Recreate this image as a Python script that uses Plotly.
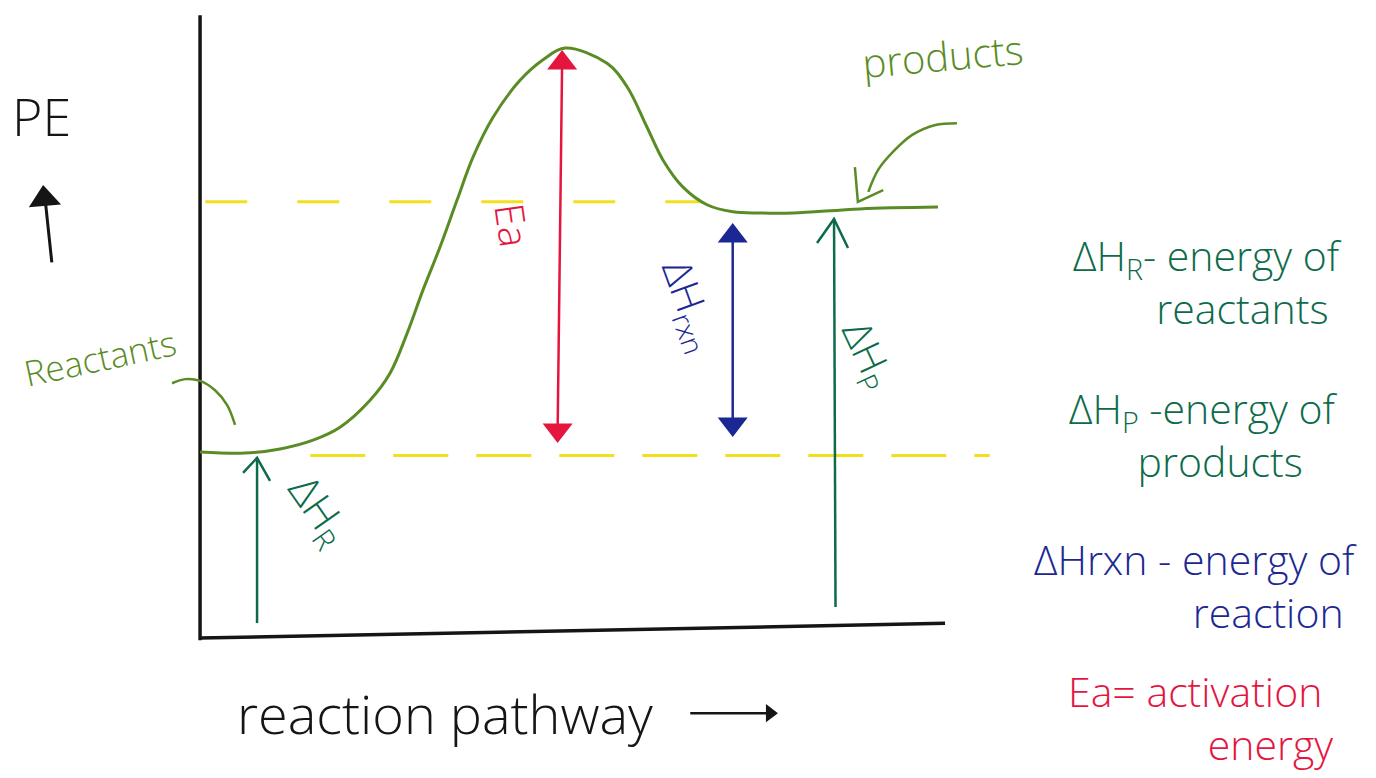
import plotly.graph_objects as go

# ---------------- data ----------------
# potential-energy curve along the reaction pathway (pathway units 0-100, PE units)
pathway = [0, 6.04, 10.74, 15.17, 18.79, 22.82, 25.50, 27.79, 29.93, 32.21, 34.50, 36.64,
           39.33, 42.95, 46.04, 49.0, 54.63, 57.32, 60.0, 62.15, 64.83, 68.05, 71.54,
           75.17, 79.6, 88.59, 99.06]
pe = [31.2, 31.0, 31.7, 33.2, 35.4, 40.0, 44.6, 51.4, 58.8, 66.1, 74.1, 81.4,
      88.2, 94.5, 98.0, 100.0, 97.4, 93.4, 86.5, 80.9, 76.3, 73.3, 72.1,
      71.9, 71.9, 72.6, 72.9]

reactant_pe = 31.2
product_pe = 72.4
peak_pe = 100.0
reactant_level_pe = 30.6
product_level_pe = 73.8

reactant_level_x = [14.8, 106.0]
product_level_x = [0.7, 67.1]

# pathway positions of the measured energy arrows
ea_x = 48.3
rxn_x = 71.5
hp_x = 85.1
hr_x = 7.65

# axis frame of the sketch
yaxis_x = [0, 0]
yaxis_pe = [105.6, -0.9]
xaxis_x = [0, 100]
xaxis_pe = [-0.5, 2.0]

# pointer curves
reactants_ptr_x = [-3.76, -2.01, 0.0, 2.01, 3.62, 4.70]
reactants_ptr_pe = [42.9, 43.6, 43.3, 41.7, 39.2, 35.8]
products_ptr_x = [101.6, 98.7, 95.6, 93.0, 91.0, 89.7]
products_ptr_pe = [87.2, 86.9, 85.2, 82.3, 79.2, 75.5]
products_head_x = [87.9, 88.3, 91.7]
products_head_pe = [79.7, 73.8, 75.8]

# ---------------- styles ----------------
CURVE_GREEN = "#5a8c25"
DARK_GREEN = "#0d6b4a"
BLUE = "#1b2894"
RED = "#e4163f"
YELLOW = "#f3e01c"
BLACK = "#151515"
FONT = "Open Sans"
PX_X = 7.45   # pixels per pathway unit
PX_Y = 5.87   # pixels per PE unit

fig = go.Figure()


def line(x, y, color, width, dash=None, shape="linear"):
    fig.add_trace(go.Scatter(x=x, y=y, mode="lines", line_shape=shape,
                             line=dict(color=color, width=width, dash=dash),
                             hoverinfo="skip"))


def head(x, y, symbol, color, size, angle=0):
    fig.add_trace(go.Scatter(x=[x], y=[y], mode="markers", hoverinfo="skip",
                             marker=dict(symbol=symbol, size=size, color=color, angle=angle,
                                         line=dict(width=0))))


def chevron(x, tip, color, dx_l, dx_r, dy_l, dy_r, width=2.5):
    line([x - dx_l / PX_X, x, x + dx_r / PX_X], [tip - dy_l / PX_Y, tip, tip - dy_r / PX_Y],
         color, width)


# yellow dashed energy levels
line(product_level_x, [product_level_pe] * 2, YELLOW, 3, dash="42px,50px")
line(reactant_level_x, [reactant_level_pe] * 2, YELLOW, 3, dash="55px,28px")

# axes
line(yaxis_x, yaxis_pe, BLACK, 3.5)
line(xaxis_x, xaxis_pe, BLACK, 3.5)

# energy curve
line(pathway, pe, CURVE_GREEN, 3, shape="spline")

# pointers
line(reactants_ptr_x, reactants_ptr_pe, CURVE_GREEN, 2.5, shape="spline")
line(products_ptr_x, products_ptr_pe, CURVE_GREEN, 2.5, shape="spline")
line(products_head_x, products_head_pe, CURVE_GREEN, 2.5)

# Ea double arrow (reactants -> peak)
ea_top = peak_pe - 15 / PX_Y
ea_bot = reactant_pe + 22 / PX_Y
line([ea_x + 0.3, ea_x - 0.3], [ea_top, ea_bot], RED, 2.5)
head(ea_x + 0.3, ea_top, "triangle-up", RED, 26)
head(ea_x - 0.3, ea_bot, "triangle-down", RED, 26)

# dH rxn double arrow (reactants -> products)
rxn_top = product_pe - 26 / PX_Y
rxn_bot = reactant_pe + 28 / PX_Y
line([rxn_x, rxn_x], [rxn_top, rxn_bot], BLUE, 2.5)
head(rxn_x, rxn_top, "triangle-up", BLUE, 26)
head(rxn_x, rxn_bot, "triangle-down", BLUE, 26)

# dH products arrow (0 -> products)
hp_tip = product_pe - 9 / PX_Y
line([hp_x + 0.2, hp_x], [0 + 28 / PX_Y, hp_tip], DARK_GREEN, 2.5)
chevron(hp_x, hp_tip, DARK_GREEN, 17, 14, 24, 29)

# dH reactants arrow (0 -> reactants)
hr_tip = reactant_pe - 6 / PX_Y
line([hr_x, hr_x], [0 + 12 / PX_Y, hr_tip], DARK_GREEN, 2.5)
chevron(hr_x, hr_tip, DARK_GREEN, 14, 13, 15, 23)

# PE axis arrow
line([-19.9, -20.8], [63.5, 74.3], BLACK, 3)
head(-20.9, 74.3, "triangle-up", BLACK, 28, angle=-5)

# reaction pathway arrow
line([65.8, 76.0], [-13.3, -13.3], BLACK, 2.5)
head(76.5, -13.3, "triangle-right", BLACK, 16)

ann = []


def label(x, y, text, color, size, angle=0, xanchor="center", align="center"):
    ann.append(dict(x=x, y=y, xref="x", yref="y", text=text, showarrow=False,
                    textangle=angle, xanchor=xanchor, yanchor="middle", align=align,
                    font=dict(family=FONT, size=size, color=color, weight=300)))


label(-21.3, 88.5, "PE", BLACK, 52)
label(-13.4, 47.2, "Reactants", CURVE_GREEN, 35, angle=-12)
label(99.7, 98.8, "products", CURVE_GREEN, 40, angle=-5)
label(42.0, 69.8, "Ea", RED, 40, angle=82)
label(65.8, 56.2, "ΔH<sub>rxn</sub>", BLUE, 40, angle=70)
label(89.7, 47.7, "ΔH<sub>P</sub>", DARK_GREEN, 40, angle=65)
label(15.9, 21.3, "ΔH<sub>R</sub>", DARK_GREEN, 42, angle=55)
label(32.9, -13.3, "reaction pathway", BLACK, 54)

# key on the right
label(153.6, 60.3, "ΔH<sub>R</sub>- energy of<br>reactants&nbsp;", DARK_GREEN, 41,
      xanchor="right", align="right")
label(153.0, 34.1, "ΔH<sub>P</sub> -energy of<br>products&nbsp;&nbsp;&nbsp;", DARK_GREEN, 41,
      xanchor="right", align="right")
label(155.6, 8.5, "ΔHrxn - energy of<br>reaction&nbsp;", BLUE, 41,
      xanchor="right", align="right")
label(152.3, -14.1, "Ea= activation&nbsp;<br>energy", RED, 41,
      xanchor="right", align="right")

# the page adds an 8 px body margin; the ranges are shifted so the sketch sits at the
# same place as in the reference picture
fig.update_layout(
    width=1368, height=770,
    margin=dict(l=0, r=0, t=0, b=0),
    paper_bgcolor="white", plot_bgcolor="white",
    showlegend=False,
    xaxis=dict(range=[-25.78, 157.85], visible=False, fixedrange=True),
    yaxis=dict(range=[-24.35, 106.82], visible=False, fixedrange=True),
    annotations=ann,
)

fig.write_html("out.html")
